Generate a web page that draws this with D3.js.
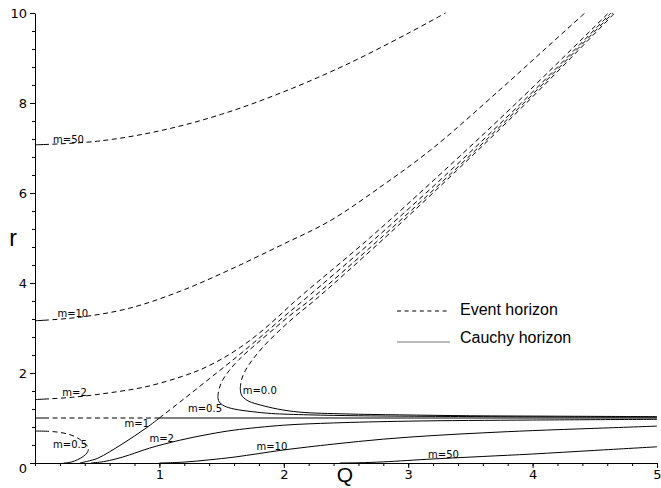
<!DOCTYPE html>
<html>
<head>
<meta charset="utf-8">
<script src="https://cdn.jsdelivr.net/npm/d3@7"></script>
<style>
  body { margin: 0; background: #fff; }
</style>
</head>
<body>
<div id="container"></div>
<script>
// tick labels
const qTicks = [1, 2, 3, 4, 5];
const rTicks = [0, 2, 4, 6, 8, 10];

// event horizons (dashed), points are [Q, r]
const eventM50 = [[0,7.07],[0.5,7.15],[1,7.38],[1.5,7.75],[2,8.25],[2.5,8.85],[3,9.55],[3.3,10]];
const eventM10 = [[0,3.16],[0.36,3.24],[0.76,3.44],[1.17,3.82],[1.57,4.3],[1.97,4.83],[2.37,5.38],[2.8,6.18],[3.2,7.0],[3.74,8.3],[4.1,9.2],[4.42,10]];
const eventM2 = [[0,1.41],[0.3,1.46],[0.6,1.56],[0.9,1.7],[1.2,1.94],[1.35,2.1],[1.5,2.31],[1.65,2.57],[1.8,2.88],[1.95,3.24],[2.1,3.62],[2.69,5.0],[3.29,6.5],[3.87,8.0],[4.61,10]];
const eventM1 = [[1.0,1.0],[1.2,1.43],[1.4,1.87],[1.6,2.31],[1.8,2.77],[2.0,3.25],[2.16,3.62],[2.74,5.0],[3.34,6.5],[3.91,8.0],[4.63,10]];
const eventR1 = [[0,1],[1,1]];
const eventM05a = [[0,0.71],[0.1,0.705],[0.2,0.68],[0.28,0.63],[0.34,0.56],[0.39,0.46],[0.42,0.38],[0.43,0.31]];
const eventM05b = [[1.47,1.47],[1.48,1.65],[1.51,1.85],[1.56,2.05],[1.64,2.3],[1.76,2.6],[1.9,2.93],[2.05,3.28],[2.21,3.62],[2.78,5.0],[3.37,6.5],[3.93,8.0],[4.645,10]];
const eventM0 = [[1.65,1.66],[1.66,1.85],[1.69,2.05],[1.75,2.3],[1.84,2.6],[1.96,2.93],[2.1,3.28],[2.25,3.62],[2.81,5.0],[3.39,6.5],[3.95,8.0],[4.66,10]];

// Cauchy horizons (solid)
const cauchyM50 = [[2.45,0],[2.6,0.005],[2.8,0.025],[3.2,0.09],[3.6,0.145],[4.0,0.2],[4.5,0.28],[5.0,0.36]];
const cauchyM10 = [[1.0,0],[1.2,0.02],[1.4,0.07],[1.6,0.13],[1.8,0.21],[2.0,0.29],[2.4,0.42],[2.8,0.53],[3.2,0.61],[3.6,0.67],[4.0,0.72],[4.5,0.77],[5.0,0.82]];
const cauchyM2 = [[0.45,0],[0.55,0.03],[0.65,0.09],[0.76,0.18],[0.92,0.33],[1.17,0.51],[1.4,0.64],[1.6,0.73],[2.0,0.84],[2.4,0.89],[3.0,0.93],[4.0,0.955],[5.0,0.97]];
const cauchyM1 = [[0.36,0],[0.5,0.1],[0.6,0.25],[0.7,0.42],[0.8,0.6],[0.9,0.79],[1.0,1.0]];
const cauchyR1 = [[1,1],[5,1]];
const cauchyM05a = [[0.43,0.31],[0.42,0.23],[0.39,0.15],[0.34,0.07],[0.29,0.02],[0.23,0]];
const cauchyM05b = [[1.47,1.47],[1.48,1.36],[1.52,1.27],[1.6,1.2],[1.75,1.14],[1.9,1.1],[2.2,1.07],[2.6,1.05],[3.0,1.04],[4.0,1.025],[5.0,1.02]];
const cauchyM0 = [[1.65,1.66],[1.655,1.55],[1.67,1.47],[1.72,1.37],[1.81,1.29],[1.95,1.2],[2.13,1.13],[2.5,1.09],[2.93,1.07],[3.5,1.05],[4.2,1.04],[5.0,1.03]];

// curve labels, anchored at [Q, r]
const labelText = ["m=50", "m=10", "m=2", "m=1", "m=0.5", "m=2", "m=0.5", "m=0.0", "m=10", "m=50"];
const labelPos = [[0.145,7.12],[0.18,3.25],[0.22,1.48],[0.72,0.8],[0.145,0.33],[0.92,0.47],[1.23,1.13],[1.67,1.53],[1.78,0.29],[3.16,0.11]];

const legendText = ["Event horizon", "Cauchy horizon"];

let margin = {top: 13, right: 4, bottom: 25, left: 35};
let width = 661 - margin.left - margin.right,
    height = 488 - margin.top - margin.bottom;

let svg = d3.select("#container").append("svg")
    .attr("width", 661)
    .attr("height", 488)
    .style("font-family", "'DejaVu Sans', sans-serif");

let g = svg.append("g")
    .attr("transform", "translate(" + margin.left + "," + margin.top + ")");

let x = d3.scaleLinear().domain([0, 5]).range([0, width]);
let y = d3.scaleLinear().domain([0, 10]).range([height, 0]);

g.append("clipPath").attr("id", "plot-clip")
    .append("rect").attr("x", -1).attr("y", -1).attr("width", width + 2).attr("height", height + 1);

let line = d3.line()
    .x(function(d) { return x(d[0]); })
    .y(function(d) { return y(d[1]); })
    .curve(d3.curveCatmullRom.alpha(0.5));

// Maple-like dash: curves starting at the axis begin with a longer stroke
function dashFor(d) {
    if (d[0][0] !== 0) return "5,3.5";
    let parts = [14];
    for (let i = 0; i < 300; i++) parts.push(3.5, 5);
    parts.push(3.5);
    return parts.join(",");
}

let events = [eventM50, eventM10, eventM2, eventM1, eventR1, eventM05a, eventM05b, eventM0];
let cauchys = [cauchyM50, cauchyM10, cauchyM2, cauchyM1, cauchyR1, cauchyM05a, cauchyM05b, cauchyM0];

let curves = g.append("g").attr("clip-path", "url(#plot-clip)");

curves.selectAll(".event")
    .data(events)
    .enter().append("path")
    .attr("class", "event")
    .attr("d", line)
    .attr("fill", "none")
    .attr("stroke", "#000")
    .attr("stroke-width", 1)
    .attr("stroke-dasharray", dashFor);

curves.selectAll(".cauchy")
    .data(cauchys)
    .enter().append("path")
    .attr("class", "cauchy")
    .attr("d", line)
    .attr("fill", "none")
    .attr("stroke", "#000")
    .attr("stroke-width", 1);

// axes
let yAxis = g.append("g")
    .call(d3.axisLeft(y).tickValues(rTicks).tickFormat(d3.format("d")).tickSize(5).tickPadding(3).tickSizeOuter(0));
g.append("g")
    .call(d3.axisLeft(y).tickValues(d3.range(0, 10.01, 0.4)).tickSize(3).tickFormat("").tickSizeOuter(0))
    .select(".domain").remove();

let xAxis = g.append("g")
    .attr("transform", "translate(0," + height + ")")
    .call(d3.axisBottom(x).tickValues(qTicks).tickFormat(d3.format("d")).tickSize(5).tickPadding(2).tickSizeOuter(0));
g.append("g")
    .attr("transform", "translate(0," + height + ")")
    .call(d3.axisBottom(x).tickValues(d3.range(0, 5.01, 0.2)).tickSize(3).tickFormat("").tickSizeOuter(0))
    .select(".domain").remove();

g.selectAll(".tick text")
    .style("font-family", "'DejaVu Sans', sans-serif")
    .style("font-size", "13px")
    .attr("fill", "#000");
yAxis.selectAll(".tick text").filter(function(d) { return d === 0; }).attr("dy", "0.75em");
xAxis.selectAll(".tick text").filter(function(d) { return d === 5; }).attr("text-anchor", "end").attr("dx", "4px");

// axis titles
svg.append("text")
    .attr("x", 345).attr("y", 482)
    .attr("text-anchor", "middle")
    .style("font-family", "'Liberation Sans', Arial, sans-serif")
    .style("font-size", "21px")
    .text("Q");

svg.append("text")
    .attr("x", 13).attr("y", 246)
    .attr("text-anchor", "middle")
    .style("font-family", "'Liberation Sans', Arial, sans-serif")
    .style("font-size", "23px")
    .text("r");

// curve labels
g.selectAll(".curve-label")
    .data(labelText)
    .enter().append("text")
    .attr("class", "curve-label")
    .attr("x", function(d, i) { return x(labelPos[i][0]); })
    .attr("y", function(d, i) { return y(labelPos[i][1]); })
    .style("font-size", "10px")
    .text(function(d) { return d; });

// legend
let legend = svg.append("g").attr("transform", "translate(397,311)");
legend.append("line")
    .attr("x1", 0).attr("x2", 53).attr("y1", 0).attr("y2", 0)
    .attr("stroke", "#000").attr("stroke-dasharray", "4,3.6");
legend.append("line")
    .attr("x1", 0).attr("x2", 53).attr("y1", 31).attr("y2", 31)
    .attr("stroke", "#777");
legend.selectAll("text")
    .data(legendText)
    .enter().append("text")
    .attr("x", 63)
    .attr("y", function(d, i) { return 4 + i * 28; })
    .style("font-family", "'Liberation Sans', Arial, sans-serif")
    .style("font-size", "16px")
    .text(function(d) { return d; });
</script>
</body>
</html>
